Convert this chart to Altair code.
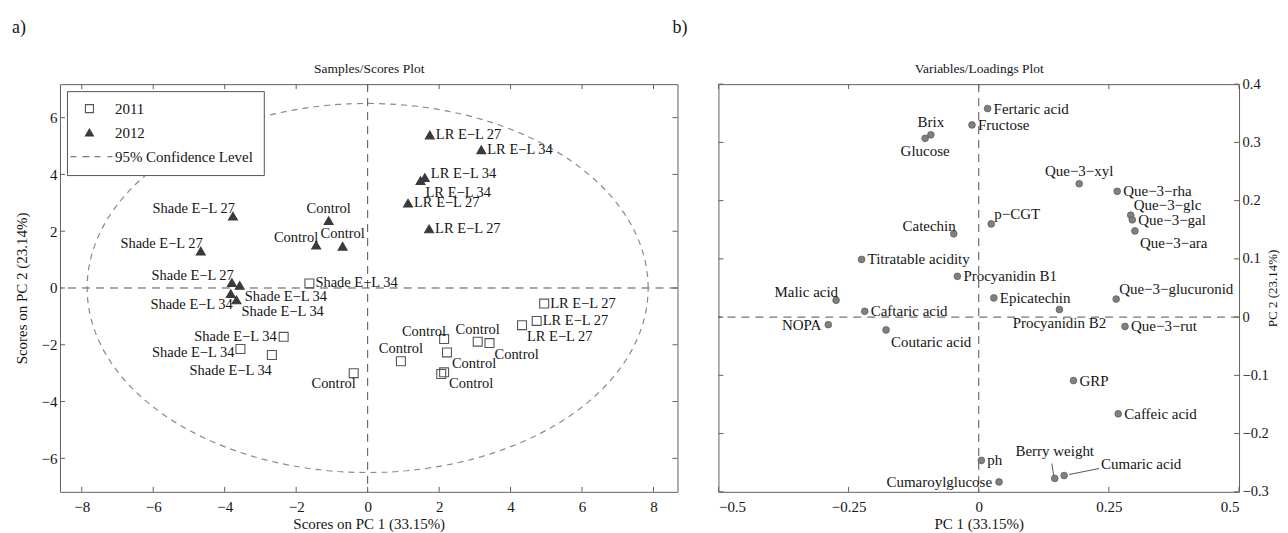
import altair as alt
import pandas as pd

FONT = "Liberation Serif"
FRAME = "#606060"
TXT = "#151515"

# ---------------- a) Samples / Scores ----------------
score_year = ["2011"] * 15 + ["2012"] * 15
score_x = [-1.63, -2.35, -3.56, -2.68, -0.39, 0.93, 2.14, 2.22, 2.14, 2.06, 3.08, 3.41, 4.32, 4.73, 4.94,
           -3.77, -4.67, -3.80, -3.58, -3.83, -3.67, -1.09, -1.44, -0.70, 1.74, 3.18, 1.60, 1.48, 1.13, 1.72]
score_y = [0.16, -1.72, -2.15, -2.36, -3.00, -2.58, -1.80, -2.27, -2.97, -3.03, -1.89, -1.94, -1.31, -1.16, -0.55,
           2.53, 1.30, 0.19, 0.09, -0.20, -0.42, 2.37, 1.51, 1.47, 5.39, 4.87, 3.89, 3.78, 2.99, 2.08]
score_label = ["Shade E−L 34", "Shade E−L 34", "Shade E−L 34", "Shade E−L 34", "Control", "Control",
               "Control", "Control", "Control", "Control", "Control", "Control", "LR E−L 27", "LR E−L 27",
               "LR E−L 27",
               "Shade E−L 27", "Shade E−L 27", "Shade E−L 27", "Shade E−L 34", "Shade E−L 34", "Shade E−L 34",
               "Control", "Control", "Control", "LR E−L 27", "LR E−L 34", "LR E−L 34", "LR E−L 34",
               "LR E−L 27", "LR E−L 27"]
score_place = ["r", "l", "l2", "dl2", "dl", "a", "ul", "br", "br", "none", "a", "br", "br", "r", "r",
               "ul", "ul", "ul", "br", "dl", "br", "a", "ul", "a", "r", "r", "ru", "br", "r", "r"]

series_domain = ["2011", "2012", "95% Confidence Level"]
ellipse_a, ellipse_b = 7.85, 6.5          # semi-axes of the 95% confidence ellipse

scores_xticks = [-8, -6, -4, -2, 0, 2, 4, 6, 8]
scores_yticks = [-6, -4, -2, 0, 2, 4, 6]

# ---------------- b) Variables / Loadings ----------------
load_label = ["Fertaric acid", "Fructose", "Brix", "Glucose", "Catechin", "Titratable acidity",
              "Procyanidin B1", "p−CGT", "Que−3−xyl", "Que−3−rha", "Que−3−glc", "Que−3−gal", "Que−3−ara",
              "Malic acid", "Caftaric acid", "NOPA", "Coutaric acid", "Epicatechin", "Procyanidin B2",
              "Que−3−glucuronid", "Que−3−rut", "GRP", "Caffeic acid", "ph", "Cumaroylglucose",
              "Berry weight", "Cumaric acid"]
load_x = [0.017, -0.013, -0.092, -0.103, -0.048, -0.225, -0.041, 0.024, 0.193, 0.266, 0.292, 0.295, 0.300,
          -0.274, -0.219, -0.289, -0.178, 0.029, 0.155, 0.264, 0.281, 0.182, 0.268, 0.005, 0.039,
          0.146, 0.164]
load_y = [0.358, 0.330, 0.313, 0.307, 0.143, 0.099, 0.070, 0.160, 0.229, 0.216, 0.175, 0.167, 0.148,
          0.029, 0.010, -0.013, -0.022, 0.033, 0.013, 0.031, -0.016, -0.109, -0.166, -0.246, -0.283,
          -0.277, -0.272]
load_place = ["r", "r", "a", "b", "ul", "r", "r", "ur", "a", "r", "ur", "r", "br",
              "ul", "r", "l", "br", "r", "b", "ur", "r", "r", "r", "r", "l", "a2", "ur2"]

load_xticks = [-0.5, -0.25, 0, 0.25, 0.5]
load_yticks = [-0.3, -0.2, -0.1, 0, 0.1, 0.2, 0.3, 0.4]

# ---------------- layout constants ----------------
WL, WR, H = 618, 521, 408
TICK = 5

PLACES = {
    "r": dict(align="left", baseline="middle", dx=6, dy=0),
    "ru": dict(align="left", baseline="middle", dx=6, dy=-4),
    "l": dict(align="right", baseline="middle", dx=-7, dy=0),
    "l2": dict(align="right", baseline="middle", dx=-6, dy=4),
    "a": dict(align="center", baseline="bottom", dx=0, dy=-5),
    "b": dict(align="center", baseline="top", dx=0, dy=6),
    "ul": dict(align="right", baseline="bottom", dx=2, dy=0),
    "ur": dict(align="left", baseline="bottom", dx=3, dy=-2),
    "dl": dict(align="right", baseline="top", dx=2, dy=4),
    "dl2": dict(align="right", baseline="top", dx=0, dy=9),
    "br": dict(align="left", baseline="top", dx=5, dy=5),
    "a2": dict(align="center", baseline="bottom", dx=0, dy=-19),
    "ur2": dict(align="left", baseline="bottom", dx=37, dy=-4),
}

scores = pd.DataFrame(dict(x=score_x, y=score_y, year=score_year, label=score_label, place=score_place))
loads = pd.DataFrame(dict(x=load_x, y=load_y, label=load_label, place=load_place))


def label_layers(df, X, Y, size):
    out = []
    for key, p in PLACES.items():
        out.append(alt.Chart(df).transform_filter(alt.datum.place == key)
                   .mark_text(font=FONT, fontSize=size, color=TXT, **p)
                   .encode(x=X, y=Y, text="label:N"))
    return out


def tick_layers(xvals, yvals, xsc, ysc, W, top_axis, bottom_axis, left_axis, right_axis):
    dx = pd.DataFrame({"v": xvals})
    dy = pd.DataFrame({"v": yvals})
    r = dict(color=FRAME, strokeWidth=1)
    top = alt.Chart(dx).mark_rule(**r).encode(
        x=alt.X("v:Q", scale=xsc, axis=top_axis), y=alt.value(0), y2=alt.value(TICK))
    bot = alt.Chart(dx).mark_rule(**r).encode(
        x=alt.X("v:Q", scale=xsc, axis=bottom_axis), y=alt.value(H), y2=alt.value(H - TICK))
    lef = alt.Chart(dy).mark_rule(**r).encode(
        y=alt.Y("v:Q", scale=ysc, axis=left_axis), x=alt.value(0), x2=alt.value(TICK))
    rig = alt.Chart(dy).mark_rule(**r).encode(
        y=alt.Y("v:Q", scale=ysc, axis=right_axis), x=alt.value(W), x2=alt.value(W - TICK))
    return [top, bot, lef, rig]


def zero_lines(xsc, ysc):
    z = pd.DataFrame({"z": [0]})
    v = alt.Chart(z).mark_rule(color="#505050", strokeDash=[8, 6], strokeWidth=1).encode(
        x=alt.X("z:Q", scale=xsc, axis=None))
    h = alt.Chart(z).mark_rule(color="#505050", strokeDash=[8, 6], strokeWidth=1).encode(
        y=alt.Y("z:Q", scale=ysc, axis=None))
    return [v, h]


def top_title_axis(text):
    return alt.Axis(orient="top", title=text, labels=False, ticks=False, domain=False, grid=False,
                    titleFontSize=13.5, titlePadding=9)


# ---------------- panel a ----------------
xsL = alt.Scale(domain=[-8.61, 8.67], nice=False, zero=False)
ysL = alt.Scale(domain=[-7.18, 7.18], nice=False, zero=False)
XL = alt.X("x:Q", scale=xsL, axis=None)
YL = alt.Y("y:Q", scale=ysL, axis=None)

DASH_PATH = "M-4.75,0H-3.25M-1.75,0H0M1.25,0H2.75M4.5,0H5.75"
leg = alt.Legend(orient="top-left", offset=7, title=None, direction="vertical", padding=10,
                 symbolOffset=5, labelOffset=18, rowPadding=8, labelFont=FONT, labelFontSize=15,
                 labelColor=TXT, strokeColor="#555555", fillColor="white", symbolSize=64,
                 symbolStrokeWidth=1.1)

ellipse = (alt.Chart(alt.sequence(0, 362, 2, as_="t"))
           .transform_calculate(ex=f"{ellipse_a}*cos(datum.t*PI/180)",
                                ey=f"{ellipse_b}*sin(datum.t*PI/180)")
           .mark_line(color="#8a8a8a", strokeDash=[6, 5], strokeWidth=1.2)
           .encode(x=alt.X("ex:Q", scale=xsL, axis=None), y=alt.Y("ey:Q", scale=ysL, axis=None),
                   order="t:Q"))

pts = alt.Chart(scores).mark_point(size=80, filled=False, strokeWidth=1.1, opacity=1).encode(
    x=XL, y=YL,
    shape=alt.Shape("year:N", scale=alt.Scale(domain=series_domain,
                                              range=["square", "triangle-up", DASH_PATH]), legend=leg),
    fill=alt.Fill("year:N", scale=alt.Scale(domain=series_domain,
                                            range=["transparent", "#3a3a3a", "transparent"]), legend=leg),
    stroke=alt.Stroke("year:N", scale=alt.Scale(domain=series_domain,
                                                range=["#555555", "#3a3a3a", "#7a7a7a"]), legend=leg),
)

axL_bottom = alt.Axis(values=scores_xticks, title="Scores on PC 1 (33.15%)", ticks=False, domain=False,
                      grid=False, labelPadding=8, titlePadding=2)
axL_left = alt.Axis(values=scores_yticks, title="Scores on PC 2 (23.14%)", ticks=False, domain=False,
                    grid=False, labelPadding=3, titlePadding=12)

left = alt.layer(
    *zero_lines(xsL, ysL),
    ellipse,
    *tick_layers(scores_xticks, scores_yticks, xsL, ysL, WL,
                 top_title_axis("Samples/Scores Plot"), axL_bottom, axL_left, None),
    pts,
    *label_layers(scores, XL, YL, 14.5),
).resolve_axis(x="independent", y="independent").properties(
    width=WL, height=H,
    title=alt.TitleParams("a)", anchor="start", frame="group", fontSize=18, font=FONT,
                          fontWeight="normal", color=TXT, offset=24, dx=-48),
)

# ---------------- panel b ----------------
xsR = alt.Scale(domain=[-0.5, 0.5], nice=False, zero=False)
ysR = alt.Scale(domain=[-0.3, 0.4], nice=False, zero=False)
XR = alt.X("x:Q", scale=xsR, axis=None)
YR = alt.Y("y:Q", scale=ysR, axis=None)

circles = alt.Chart(loads).mark_circle(size=45, color="#808080", stroke="#5e5e5e", strokeWidth=0.8,
                                        opacity=1).encode(x=XR, y=YR)

leaders = (alt.Chart(loads).transform_filter("datum.place == 'a2' || datum.place == 'ur2'")
           .transform_calculate(
               x1=f"datum.x + (datum.place == 'a2' ? -1 : 5) / {WR}",
               x2=f"datum.x + (datum.place == 'a2' ? -3 : 35) / {WR}",
               y1=f"datum.y + (datum.place == 'a2' ? 3 : 1) * 0.7 / {H}",
               y2=f"datum.y + (datum.place == 'a2' ? 15 : 7) * 0.7 / {H}")
           .mark_rule(color="#444444", strokeWidth=0.9)
           .encode(x=alt.X("x1:Q", scale=xsR, axis=None), x2="x2:Q",
                   y=alt.Y("y1:Q", scale=ysR, axis=None), y2="y2:Q"))

axR_bottom = alt.Axis(values=load_xticks, format=".2~g", title="PC 1 (33.15%)", ticks=False,
                      domain=False, grid=False, labelPadding=8, titlePadding=2)
axR_right = alt.Axis(values=load_yticks, format=".2~g", orient="right", title="PC 2 (23.14%)",
                     ticks=False, domain=False, grid=False, labelPadding=3, labelFontSize=14.5,
                     titlePadding=-2, titleFontSize=13, titleAngle=270, titleBaseline="top")

right = alt.layer(
    *zero_lines(xsR, ysR),
    *tick_layers(load_xticks, load_yticks, xsR, ysR, WR,
                 top_title_axis("Variables/Loadings Plot"), axR_bottom, None, axR_right),
    leaders,
    circles,
    *label_layers(loads, XR, YR, 15),
).resolve_axis(x="independent", y="independent").properties(
    width=WR, height=H,
    title=alt.TitleParams("b)", anchor="start", frame="group", fontSize=18, font=FONT,
                          fontWeight="normal", color=TXT, offset=24, dx=-46),
)

chart = alt.hconcat(left, right, spacing=41, bounds="flush").properties(
    padding={"left": 3, "top": 10, "right": 0, "bottom": 0}
).configure_view(stroke=FRAME, strokeWidth=1).configure_axis(
    labelFont=FONT, titleFont=FONT, labelFontSize=15, titleFontSize=15, titleFontWeight="normal",
    labelColor=TXT, titleColor=TXT
).configure_title(font=FONT)

chart.save("out.html", embed_options={"renderer": "svg", "actions": False})
